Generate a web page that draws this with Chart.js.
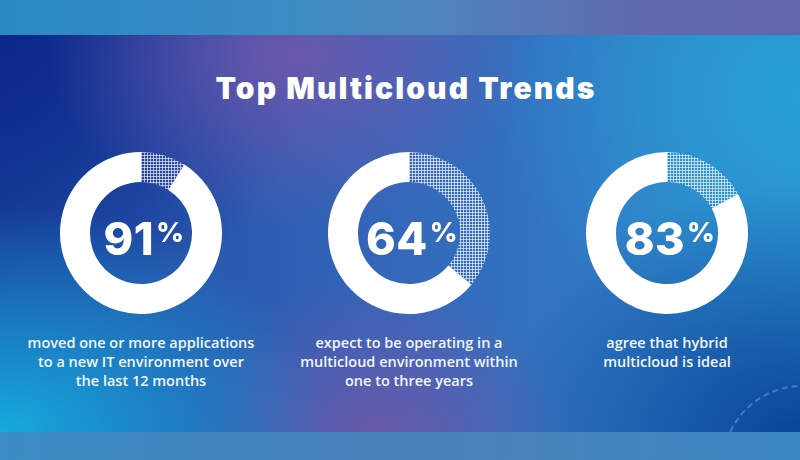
<!DOCTYPE html>
<html>
<head>
<meta charset="utf-8">
<script src="https://cdn.jsdelivr.net/npm/chart.js@4.4.1/dist/chart.umd.min.js"></script>
<style>
  html, body { margin: 0; padding: 0; }
  body { width: 800px; height: 460px; overflow: hidden; position: relative; font-family: "Open Sans", "Liberation Sans", sans-serif; }
  #bandTop { position: absolute; left: 0; top: 0; width: 800px; height: 35px;
    background: linear-gradient(90deg, #2a88c1 0%, #3a8cc4 35%, #4f84bd 55%, #6069ad 80%, #6265aa 100%); }
  #bandBottom { position: absolute; left: 0; top: 432px; width: 800px; height: 28px;
    background: linear-gradient(90deg, #3b8cc4 0%, #4582bd 40%, #4a83bd 60%, #3c88c3 100%); }
  #main { position: absolute; left: 0; top: 35px; width: 800px; height: 397px; overflow: hidden;
    background:
      radial-gradient(ellipse 240px 170px at 290px 20px, rgba(118,88,172,0.85), rgba(118,88,172,0) 100%),
      radial-gradient(ellipse 330px 230px at 0px 400px, rgba(22,172,222,1), rgba(22,172,222,0) 100%),
      radial-gradient(ellipse 190px 170px at 380px 410px, rgba(112,88,168,0.95), rgba(112,88,168,0) 100%),
      radial-gradient(ellipse 300px 260px at 800px 410px, rgba(8,66,152,1), rgba(8,66,152,0) 100%),
      radial-gradient(ellipse 320px 300px at 0px 0px, rgba(10,38,138,1), rgba(10,38,138,0) 100%),
      radial-gradient(ellipse 300px 260px at 800px 60px, rgba(40,160,215,1), rgba(40,160,215,0) 100%),
      linear-gradient(90deg, #1d46a0 0%, #3468bb 50%, #2e88c9 100%);
  }
  #arc { position: absolute; left: 722px; top: 350px; width: 160px; height: 160px; border-radius: 50%;
    border: 2px dashed rgba(120,180,235,0.45); box-sizing: border-box; }
  #title { position: absolute; left: 0; top: 71px; width: 812px; text-align: center; color: #fff;
    font-family: "Inter", "DejaVu Sans", sans-serif; font-weight: 900; font-size: 30px; line-height: 34px; letter-spacing: 2.1px; }
  .ring { position: absolute; width: 162px; height: 162px; }
  .num { position: absolute; width: 200px; text-align: center; color: #fff;
    font-family: "Inter", "DejaVu Sans", sans-serif; font-weight: 800; font-size: 45px; line-height: 46px;
    font-variant-numeric: proportional-nums; font-feature-settings: "pnum" 1, "tnum" 0; letter-spacing: 0.5px; }
  .num sup { font-size: 27px; vertical-align: top; position: relative; top: -6px; margin-left: 2px; }
  .cap { position: absolute; width: 280px; text-align: center; color: #f2f6ff;
    font-family: "Open Sans", sans-serif; font-weight: 600; font-size: 14.5px; line-height: 19px; }
</style>
</head>
<body>
<div id="bandTop"></div>
<div id="main"><div id="arc"></div></div>
<div id="bandBottom"></div>
<div id="title">Top Multicloud Trends</div>

<script>
const categories = ["Remaining", "Share"];
const values = [91, 64, 83];
const valueLabels = ["91", "64", "83"];
const captions = [
  ["moved one or more applications", "to a new IT environment over", "the last 12 months"],
  ["expect to be operating in a", "multicloud environment within", "one to three years"],
  ["agree that hybrid", "multicloud is ideal"]
];
const centersX = [141, 409, 667];
const centerY = 233;

function makePattern() {
  const t = document.createElement('canvas');
  t.width = 3; t.height = 3;
  const c = t.getContext('2d');
  c.fillStyle = 'rgba(255,255,255,0.62)';
  c.fillRect(0, 0, 3, 1);
  c.fillRect(0, 0, 1, 3);
  return document.createElement('canvas').getContext('2d').createPattern(t, 'repeat');
}
const hatch = makePattern();

values.forEach((v, i) => {
  const wrap = document.createElement('div');
  wrap.className = 'ring';
  wrap.style.left = (centersX[i] - 81) + 'px';
  wrap.style.top = (centerY - 81) + 'px';
  const cv = document.createElement('canvas');
  wrap.appendChild(cv);
  document.body.appendChild(wrap);
  new Chart(cv, {
    type: 'doughnut',
    data: {
      labels: categories,
      datasets: [{
        data: [100 - v, v],
        backgroundColor: [hatch, '#ffffff'],
        borderWidth: 0,
        hoverOffset: 0
      }]
    },
    options: {
      responsive: true,
      maintainAspectRatio: false,
      animation: false,
      cutout: '63%',
      rotation: 0,
      layout: { padding: 0 },
      plugins: { legend: { display: false }, tooltip: { enabled: false } },
      events: []
    }
  });

  const num = document.createElement('div');
  num.className = 'num';
  num.style.left = (centersX[i] - 100 + 3) + 'px';
  num.style.top = (centerY - 17) + 'px';
  num.innerHTML = valueLabels[i] + '<sup>%</sup>';
  document.body.appendChild(num);

  const cap = document.createElement('div');
  cap.className = 'cap';
  cap.style.left = (centersX[i] - 140) + 'px';
  cap.style.top = '333px';
  cap.innerHTML = captions[i].join('<br>');
  document.body.appendChild(cap);
});
</script>
</body>
</html>
